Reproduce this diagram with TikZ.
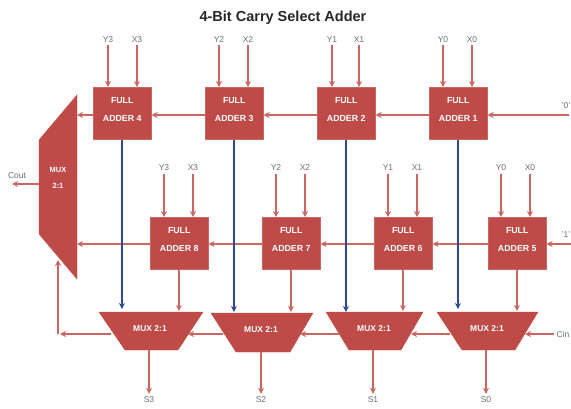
\documentclass[tikz,border=0pt]{standalone}
\usepackage{fontspec}
\setmainfont{Liberation Sans}
\definecolor{redfill}{HTML}{BE4B48}
\definecolor{redline}{HTML}{CC6663}
\definecolor{bluel}{HTML}{2F4A8C}
\definecolor{lab}{HTML}{667078}
\usetikzlibrary{arrows.meta}
\tikzset{
 fa/.style={fill=redfill,draw=redfill!85!white,line width=0.5pt,minimum width=58pt,minimum height=52pt,inner sep=0pt,text=white,anchor=north west},
 falabel/.style={text=white,font=\bfseries\fontsize{8.8}{18}\selectfont,align=center,inner sep=0pt},
 conn/.style={draw=redline,line width=1.3pt,-{Stealth[length=6pt,width=6pt]}},
 sel/.style={draw=bluel,line width=1.4pt,-{Stealth[length=6pt,width=6pt]}},
 lbl/.style={text=lab,font=\fontsize{8.5}{10}\selectfont,inner sep=0pt},
 mx/.style={fill=redfill,draw=redfill},
 mxt/.style={text=white,font=\bfseries\fontsize{8.5}{10}\selectfont,inner sep=0pt,align=center}
}
\begin{document}
\begin{tikzpicture}[x=1pt,y=-1pt]
\useasboundingbox (0,0) rectangle (571,408);
\node[font=\bfseries\fontsize{14.5}{16}\selectfont,text=black!85,inner sep=0pt] (title) at (283,18) {4-Bit Carry Select Adder};
% adders: name / x / y / number
\foreach \n/\x/\y/\k in {a4/93/87/4,a3/205/87/3,a2/317/87/2,a1/429/87/1,a8/150/217/8,a7/262/217/7,a6/374/217/6,a5/488/217/5}{
 \node[fa] (\n) at (\x,\y) {};
 \node[falabel] (\n t) at ([yshift=4pt]\n.center) {FULL\\ADDER \k};
}
% big mux
\fill[mx] (77,95) -- (39,140) -- (39,234) -- (77,279) -- cycle;
\node[mxt,font=\bfseries\fontsize{7.5}{16}\selectfont] (bm) at (58,178) {MUX\\2:1};
\coordinate (bmc) at (58,260);
\coordinate (bmw) at (39,184);
% bottom muxes
\fill[mx] (99,312) -- (203,312) -- (178,350) -- (125,350) -- cycle;
\fill[mx] (211,313) -- (313,313) -- (290,352) -- (236,352) -- cycle;
\fill[mx] (326,312) -- (423,312) -- (401,350) -- (349,350) -- cycle;
\fill[mx] (437,312) -- (538,312) -- (515,350) -- (462,350) -- cycle;
\node[mxt] (m3) at (150,329) {MUX 2:1};
\node[mxt] (m2) at (261,330) {MUX 2:1};
\node[mxt] (m1) at (374,329) {MUX 2:1};
\node[mxt] (m0) at (487,329) {MUX 2:1};
% input labels row 1
\foreach \n/\t/\x/\a in {ty3/Y3/108/a4,tx3/X3/137/a4,ty2/Y2/219/a3,tx2/X2/248/a3,ty1/Y1/332/a2,tx1/X1/359/a2,ty0/Y0/443/a1,tx0/X0/472/a1}{
 \node[lbl] (\n) at (\x,40) {\t};
 \draw[conn] ([yshift=-2pt]\n.south) -- (\n |- \a.north);
}
% input labels row 2
\foreach \n/\t/\x/\a in {by3/Y3/164/a8,bx3/X3/193/a8,by2/Y2/276/a7,bx2/X2/305/a7,by1/Y1/388/a6,bx1/X1/417/a6,by0/Y0/501/a5,bx0/X0/530/a5}{
 \node[lbl] (\n) at (\x,168) {\t};
 \draw[conn] ([yshift=-3pt]\n.south) -- (\n |- \a.north);
}
% carry chains
\node[lbl,anchor=east] (c0) at (570.5,106) {'0'};
\node[lbl,anchor=east] (c1) at (570.5,235) {'1'};
\coordinate (c0e) at (569,115);
\coordinate (c1e) at (571,244);
\draw[conn] (c0e) -- (a1.east |- c0e);
\draw[conn] (a1.west |- c0e) -- (a2.east |- c0e);
\draw[conn] (a2.west |- c0e) -- (a3.east |- c0e);
\draw[conn] (a3.west |- c0e) -- (a4.east |- c0e);
\draw[conn] (a4.west |- c0e) -- (77,115);
\draw[conn] (c1e) -- (a5.east |- c1e);
\draw[conn] (a5.west |- c1e) -- (a6.east |- c1e);
\draw[conn] (a6.west |- c1e) -- (a7.east |- c1e);
\draw[conn] (a7.west |- c1e) -- (a8.east |- c1e);
\draw[conn] (a8.west |- c1e) -- (77,244);
% blue selects
\draw[sel] ([xshift=-.3pt]a4.south) -- ([xshift=-.3pt]a4.south |- 0,309);
\draw[sel] ([xshift=-.3pt]a3.south) -- ([xshift=-.3pt]a3.south |- 0,312);
\draw[sel] ([xshift=-.3pt]a2.south) -- ([xshift=-.3pt]a2.south |- 0,312);
\draw[sel] ([xshift=-.3pt]a1.south) -- ([xshift=-.3pt]a1.south |- 0,309);
% adder to mux
\draw[conn] ([xshift=-.3pt]a8.south) -- ([xshift=-.3pt]a8.south |- 0,311);
\draw[conn] ([xshift=-.3pt]a7.south) -- ([xshift=-.3pt]a7.south |- 0,312);
\draw[conn] ([xshift=-.3pt]a6.south) -- ([xshift=-.3pt]a6.south |- 0,311);
\draw[conn] ([xshift=-.3pt]a5.south) -- ([xshift=-.3pt]a5.south |- 0,311);
% mux carry
\node[lbl] (cin) at (563,334) {Cin};
\draw[conn] ([xshift=-2pt]cin.west) -- (525,334);
\draw[conn] (450,334) -- (411,334);
\draw[conn] (339,334) -- (300,334);
\draw[conn] (223,334) -- (188,334);
\draw[conn] (111,334) -- (60,334);
\draw[conn] (58,334) -- (bmc);
% outputs
\node[lbl] (s3) at (149,400) {S3};
\node[lbl] (s2) at (261,400) {S2};
\node[lbl] (s1) at (373,400) {S1};
\node[lbl] (s0) at (486,400) {S0};
\draw[conn] (s3 |- 0,350) -- ([yshift=3pt]s3.north);
\draw[conn] (s2 |- 0,352) -- ([yshift=3pt]s2.north);
\draw[conn] (s1 |- 0,350) -- ([yshift=3pt]s1.north);
\draw[conn] (s0 |- 0,350) -- ([yshift=3pt]s0.north);
% cout
\node[lbl] (cout) at (17,176) {Cout};
\coordinate (coute) at (12,184);
\draw[conn] (bmw) -- (coute);
\end{tikzpicture}
\end{document}
